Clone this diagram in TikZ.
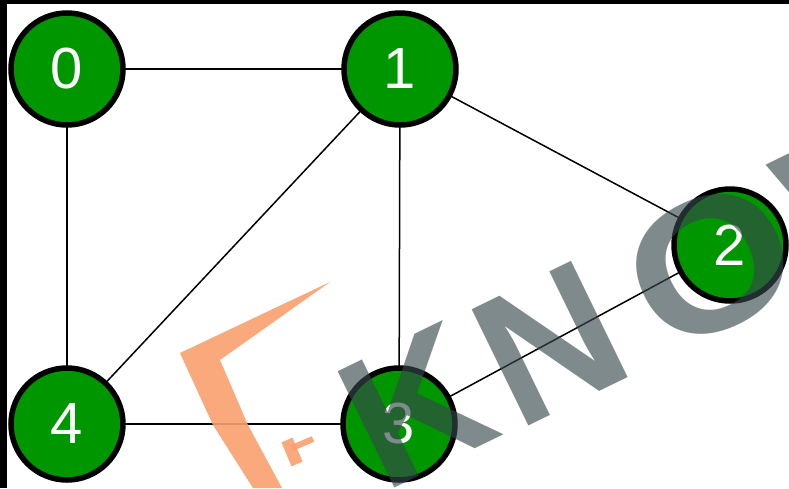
\documentclass[tikz,border=0pt]{standalone}
\usepackage{fontspec}
\usepackage{graphicx}
\setmainfont{Liberation Sans}
\definecolor{nodegreen}{RGB}{0,150,0}
\definecolor{wmgray}{RGB}{55,71,77}
\definecolor{wmorange}{RGB}{250,160,110}
\begin{document}
\begin{tikzpicture}[x=1pt,y=-1pt,
  vertex/.style={circle,fill=nodegreen,draw=black,line width=5.5pt,minimum size=112pt,inner sep=0pt,
    text=white,font=\fontsize{58}{58}\selectfont},
  edge/.style={draw=black,line width=1.5pt},
  wmletter/.style={inner sep=0pt,rotate=26,text=wmgray,opacity=0.635,
    font=\fontsize{188}{188}\selectfont\bfseries},
  wmshape/.style={fill=wmorange,opacity=0.9}]
\useasboundingbox (0,0) rectangle (789,488);
\fill[white] (0,0) rectangle (789,488);
\fill[black] (0,0) rectangle (789,4);
\fill[black] (0,0) rectangle (7,488);
\coordinate (p0) at (67,69);
\coordinate (p1) at (400,69);
\coordinate (p2) at (730,245);
\coordinate (p3) at (399,424);
\coordinate (p4) at (67,424);
\path[edge] (p0) -- (p1);
\path[edge] (p0) -- (p4);
\path[edge] (p1) -- (p4);
\path[edge] (p1) -- (p3);
\path[edge] (p1) -- (p2);
\path[edge] (p2) -- (p3);
\path[edge] (p4) -- (p3);
\node[vertex] (n0) at (p0) {0};
\node[vertex] (n1) at (p1) {1};
\node[vertex] (n2) at (p2) {2};
\node[vertex] (n3) at (p3) {3};
\node[vertex] (n4) at (p4) {4};
% watermark
\fill[wmshape] (180,353) -- (330,282) -- (220,360) -- (248,425) -- (282,488) -- (253,488) -- (213,425) -- cycle;
\draw[wmorange,opacity=0.9,line width=12pt] (287,440) -- (297,464);
\draw[wmorange,opacity=0.9,line width=6pt] (292,448) -- (313,439);
\node[wmletter] (wk) at (416,406) {K};
\node[wmletter] (wn) at (550,344) {N};
\node[wmletter] (wo) at (711,264) {\scalebox{1.12}[1.0]{O}};
\node[wmletter] (ww) at (874,184) {W};
\end{tikzpicture}
\end{document}
